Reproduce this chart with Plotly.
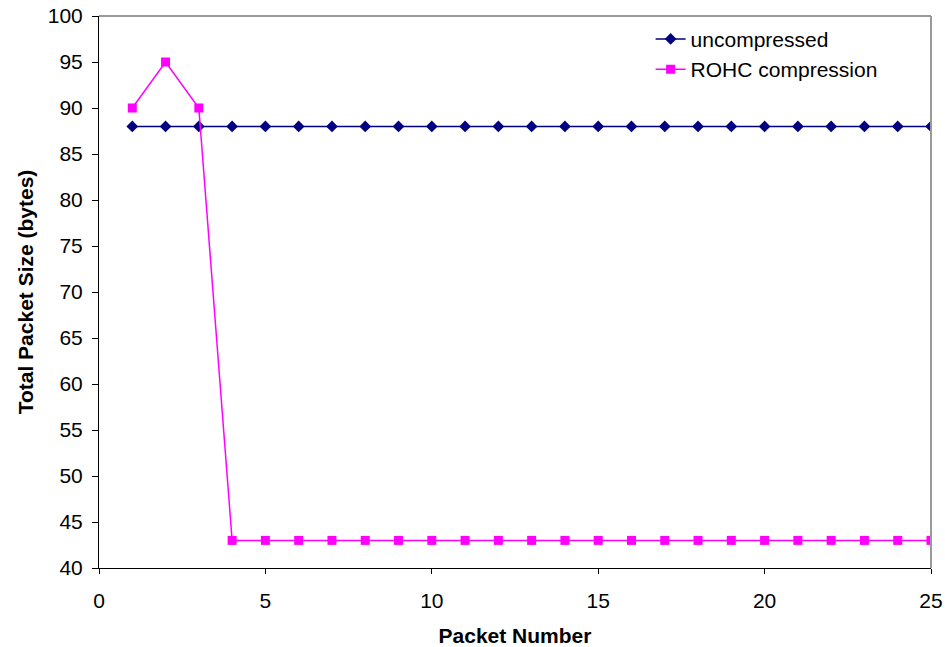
import plotly.graph_objects as go

packets = list(range(1, 26))
uncompressed = [88] * 25
rohc = [90, 95, 90] + [43] * 22

x_ticks = [0, 5, 10, 15, 20, 25]
y_ticks = list(range(40, 101, 5))

fig = go.Figure()
fig.add_trace(go.Scatter(
    x=packets, y=uncompressed, name="uncompressed", mode="lines+markers",
    line=dict(color="#000080", width=1.5),
    marker=dict(symbol="diamond", size=9, color="#000080"),
))
fig.add_trace(go.Scatter(
    x=packets, y=rohc, name="ROHC compression", mode="lines+markers",
    line=dict(color="#FF00FF", width=1.5),
    marker=dict(symbol="square", size=9, color="#FF00FF"),
))

FS = 21
font_main = dict(family="Liberation Sans, Arial, sans-serif", size=FS, color="black")

fig.update_layout(
    width=945, height=647,
    margin=dict(l=99, r=14, t=16, b=79, autoexpand=False),
    paper_bgcolor="white", plot_bgcolor="white",
    font=font_main,
    showlegend=True,
    legend=dict(
        x=0.663, y=0.995, xanchor="left", yanchor="top",
        bgcolor="rgba(0,0,0,0)", font=dict(size=FS),
        tracegroupgap=0, itemwidth=30,
    ),
    xaxis=dict(
        range=[0, 25], tickvals=x_ticks, showgrid=False, zeroline=False,
        showline=True, linecolor="black", linewidth=1, automargin=False,
        ticks="outside", ticklen=5, tickcolor="black", ticklabelstandoff=9,
        title=dict(text="<b>Packet Number</b>", font=dict(size=FS), standoff=17),
        tickfont=dict(size=FS),
    ),
    yaxis=dict(
        range=[40, 100], tickvals=y_ticks, showgrid=False, zeroline=False,
        showline=True, linecolor="black", linewidth=1, automargin=False,
        ticks="outside", ticklen=6, tickcolor="black", ticklabelstandoff=5,
        title=dict(text="<b>Total Packet Size (bytes)</b>", font=dict(size=FS), standoff=8),
        tickfont=dict(size=FS),
    ),
)

fig.add_shape(type="line", xref="paper", yref="paper", x0=0, x1=1, y0=1, y1=1,
              line=dict(color="#999999", width=2))
fig.add_shape(type="line", xref="paper", yref="paper", x0=1, x1=1, y0=0, y1=1,
              line=dict(color="#999999", width=2))

fig.write_html("out.html")
